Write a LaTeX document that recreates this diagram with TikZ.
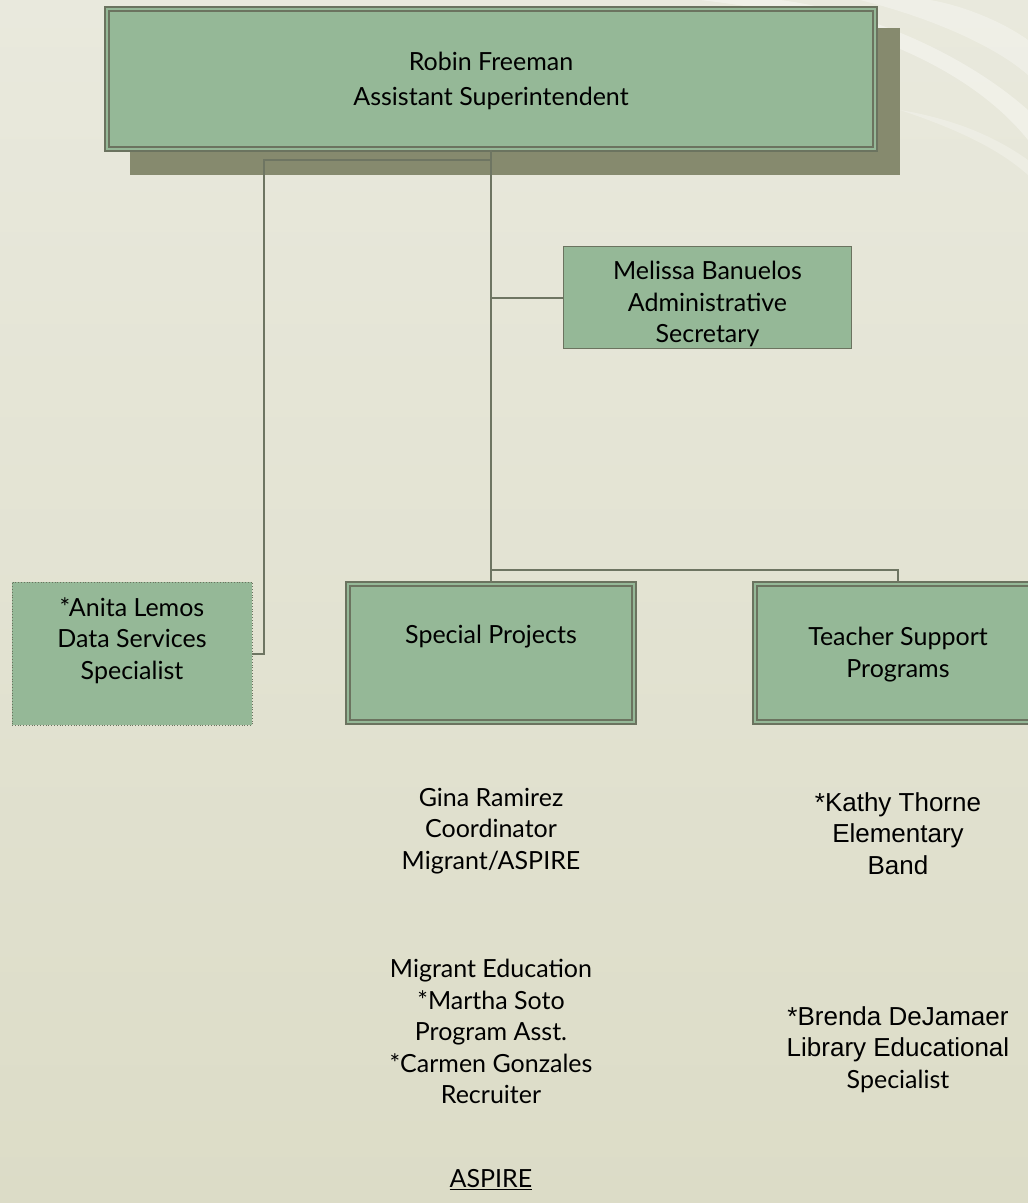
\documentclass[tikz,border=0pt]{standalone}
\usepackage{fontspec}
\setmainfont{Lato}
\newfontfamily\arialfont{Liberation Sans}
\usetikzlibrary{positioning,calc}
\definecolor{boxfill}{HTML}{95B897}
\definecolor{boxline}{HTML}{6B735F}
\definecolor{shadowc}{HTML}{868A6E}
\definecolor{linec}{HTML}{6E7562}
\definecolor{bgtop}{HTML}{E9E9DD}
\definecolor{bgbot}{HTML}{DCDCC7}
\tikzset{
  txt/.style={align=center, font=\fontsize{25}{31.5}\selectfont, inner sep=0pt},
  dbox/.style={draw=boxline, fill=boxfill, line width=1.8pt, double=boxfill, double distance=2.6pt, inner sep=0pt},
  sbox/.style={draw=boxline, fill=boxfill, line width=1.8pt, inner sep=0pt},
  dotbox/.style={draw=boxline, fill=boxfill, line width=0.8pt, dotted, inner sep=0pt},
  conn/.style={draw=linec, line width=2pt},
}
\newcommand{\arl}[1]{{\arialfont\fontsize{26}{31.5}\selectfont #1}}
\begin{document}
\begin{tikzpicture}[x=1pt,y=-1pt]
\useasboundingbox (0,0) rectangle (1028,1203);
% background
\shade[top color=bgtop, bottom color=bgbot] (0,0) rectangle (1028,1203);
\fill[white, opacity=0.35] (700,0) .. controls (880,20) and (980,80) .. (1028,140) -- (1028,110) .. controls (960,50) and (860,10) .. (780,0) -- cycle;
\fill[white, opacity=0.3] (860,0) .. controls (940,20) and (1000,50) .. (1028,75) -- (1028,40) .. controls (1000,20) and (960,5) .. (930,0) -- cycle;
\fill[white, opacity=0.25] (900,110) .. controls (960,130) and (1000,150) .. (1028,175) -- (1028,160) .. controls (1000,140) and (960,120) .. (900,110) -- cycle;

% shadow of top box
\fill[shadowc] (130,28) rectangle (900,175);
% top box
\node[dbox, minimum width=768pt, minimum height=140pt] (top) at (491,79) {};
\node[txt, font=\fontsize{25}{35}\selectfont] (toptxt) at (491,81) {Robin Freeman\\Assistant Superintendent};

% Melissa
\node[sbox, minimum width=288pt, minimum height=102pt] (mel) at (707.5,297.5) {};
\node[txt] (meltxt) at (707.5,304) {Melissa Banuelos\\Administrative\\Secretary};

% Anita
\node[dotbox, minimum width=240pt, minimum height=143pt] (an) at (132,653.5) {};
\node[txt, anchor=north] (antxt) at (132,597) {*Anita Lemos\\Data Services\\Specialist};

% Special Projects
\node[dbox, minimum width=286pt, minimum height=138pt] (sp) at (491,653) {};
\node[txt] (sptxt) at (491,637) {Special Projects};

% Teacher Support
\node[dbox, minimum width=286pt, minimum height=138pt] (ts) at (898,653) {};
\node[txt, anchor=north] (tstxt) at (898,627) {Teacher Support\\Programs};

% connectors
\coordinate (j1) at (491,160);
\coordinate (ja) at (264,160);
\coordinate (j2) at (491,570);
\draw[conn] (top.south) -- (sp.north);
\draw[conn] (j1) -- (ja) |- (an.east);
\draw[conn] (top.south |- mel.west) -- (mel.west);
\draw[conn] (j2) -| (ts.north);

% text blocks
\node[txt, anchor=north] (gina) at (491,788) {Gina Ramirez\\Coordinator\\Migrant/ASPIRE};
\node[txt, anchor=north] (mig) at (491,959) {Migrant Education\\*Martha Soto\\Program Asst.\\*Carmen Gonzales\\Recruiter};
\node[txt, anchor=north] (kathy) at (898,792) {\arl{*Kathy Thorne}\\\arl{Elementary}\\\arl{Band}};
\node[txt, anchor=north] (brenda) at (898,1006) {\arl{*Brenda DeJamaer}\\\arl{Library Educational}\\Specialist};
\node[txt] (aspire) at (491,1180) {\underline{ASPIRE}};
\end{tikzpicture}
\end{document}
